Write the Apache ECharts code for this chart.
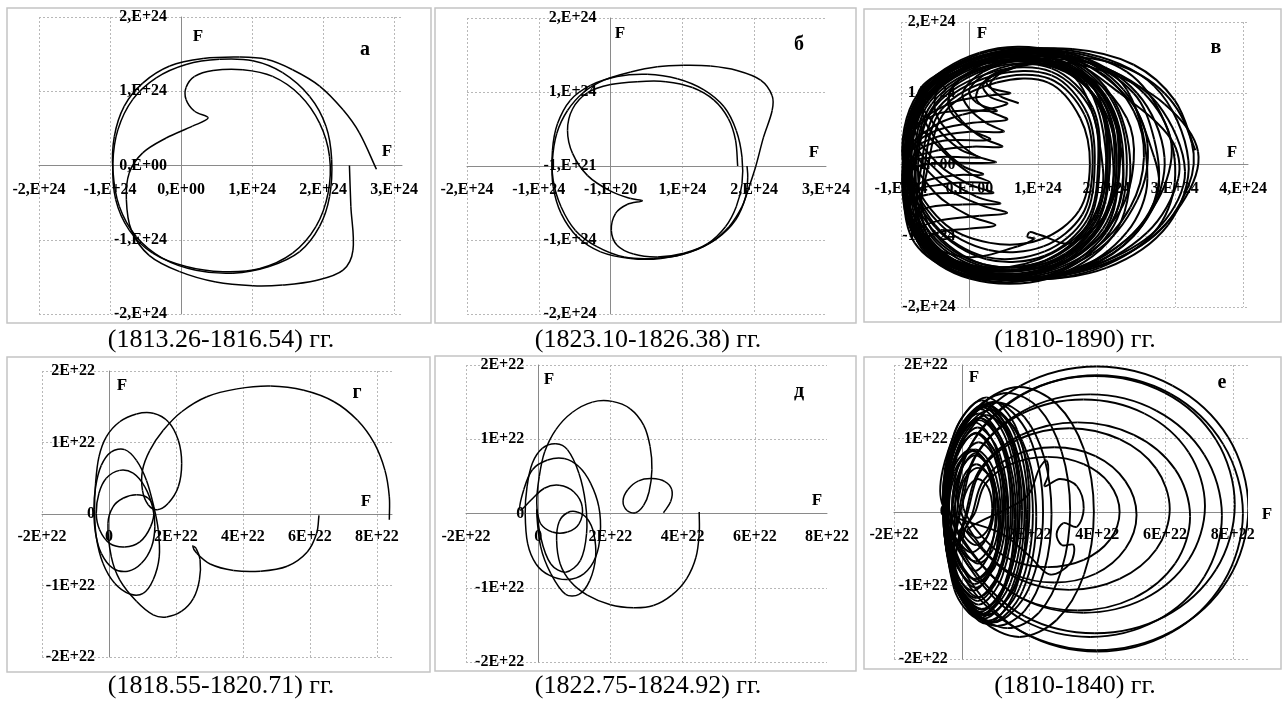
<!DOCTYPE html>
<html>
<head>
<meta charset="utf-8">
<script src="https://cdn.jsdelivr.net/npm/echarts@6/dist/echarts.min.js"></script>
<style>
  html, body { margin: 0; padding: 0; background: #fff; }
  #chart { width: 1283px; height: 704px; }
</style>
</head>
<body>
<div id="chart"></div>
<script>
// tick labels (as printed in the source figure)
const xLabelsA = ['-2,E+24', '-1,E+24', '0,E+00', '1,E+24', '2,E+24', '3,E+24'];
const yLabelsA = ['-2,E+24', '-1,E+24', '0,E+00', '1,E+24', '2,E+24'];
const xLabelsB = ['-2,E+24', '-1,E+24', '-1,E+20', '1,E+24', '2,E+24', '3,E+24'];
const yLabelsB = ['-2,E+24', '-1,E+24', '-1,E+21', '1,E+24', '2,E+24'];
const xLabelsV = ['-1,E+24', '0,E+00', '1,E+24', '2,E+24', '3,E+24', '4,E+24'];
const yLabelsV = ['-2,E+24', '-1,E+24', '0,E+00', '1,E+24', '2,E+24'];
const xLabels22 = ['-2E+22', '0', '2E+22', '4E+22', '6E+22', '8E+22'];
const yLabels22 = ['-2E+22', '-1E+22', '0', '1E+22', '2E+22'];

// а: units of 1E+24
const curveA = [
  [2.37, 0], [2.39, -0.55], [2.42, -1.14], [2.28, -1.41], [1.90, -1.55], [1.43, -1.61], [1.01, -1.62],
  [0.49, -1.57], [-0.02, -1.43], [-0.45, -1.21], [-0.70, -0.87], [-0.77, -0.46], [-0.73, -0.10],
  [-0.54, 0.17], [-0.21, 0.37], [0.16, 0.53], [0.38, 0.64], [0.19, 0.73], [0.07, 0.89], [0.07, 1.05],
  [0.19, 1.20], [0.45, 1.28], [0.87, 1.29], [1.29, 1.20], [1.67, 0.95], [1.95, 0.57], [2.09, 0.12],
  [2.07, -0.37], [1.90, -0.82], [1.57, -1.18], [1.10, -1.39], [0.59, -1.43], [0.07, -1.36],
  [-0.40, -1.18], [-0.73, -0.87], [-0.92, -0.46], [-0.96, 0.03], [-0.89, 0.48], [-0.68, 0.89],
  [-0.35, 1.18], [0.07, 1.36], [0.54, 1.43], [1.01, 1.41], [1.43, 1.25], [1.81, 0.93], [2.04, 0.53],
  [2.12, 0.08], [2.09, -0.42], [1.95, -0.82], [1.67, -1.16], [1.24, -1.36], [0.73, -1.45], [0.21, -1.41],
  [-0.26, -1.25], [-0.63, -0.96], [-0.87, -0.55], [-0.96, -0.06], [-0.94, 0.39], [-0.80, 0.80],
  [-0.54, 1.11], [-0.16, 1.34], [0.31, 1.44], [0.82, 1.46], [1.20, 1.43], [1.57, 1.29], [1.95, 1.07],
  [2.28, 0.75], [2.51, 0.44], [2.75, -0.05]
];

// б: units of 1E+24
const curveB = [
  [1.77, 0], [1.74, 0.35], [1.64, 0.64], [1.44, 0.89], [1.14, 1.06], [0.77, 1.14], [0.37, 1.14], [0, 1.10],
  [-0.32, 0.99], [-0.53, 0.77], [-0.60, 0.48], [-0.53, 0.17], [-0.32, -0.13], [0, -0.34], [0.28, -0.44],
  [0.44, -0.47], [0.23, -0.52], [0.07, -0.64], [0.01, -0.87], [0.09, -1.07], [0.32, -1.19], [0.65, -1.23],
  [1.02, -1.18], [1.35, -1.05], [1.60, -0.82], [1.75, -0.55], [1.83, -0.24], [1.83, 0.12], [1.75, 0.48],
  [1.58, 0.80], [1.30, 1.03], [0.93, 1.18], [0.51, 1.24], [0.09, 1.21], [-0.28, 1.09], [-0.56, 0.89],
  [-0.74, 0.57], [-0.81, 0.21], [-0.80, -0.19], [-0.69, -0.55], [-0.49, -0.87], [-0.19, -1.09],
  [0.19, -1.23], [0.60, -1.25], [1.02, -1.19], [1.37, -1.05], [1.65, -0.82], [1.83, -0.55], [1.93, -0.28],
  [2.02, -0.01], [2.13, 0.39], [2.25, 0.75], [2.25, 0.95], [2.09, 1.16], [1.76, 1.29], [1.39, 1.35],
  [1.02, 1.36], [0.65, 1.34], [0.28, 1.27], [-0.09, 1.16], [-0.37, 1.00], [-0.60, 0.75], [-0.75, 0.44],
  [-0.81, 0.08], [-0.80, -0.28], [-0.69, -0.64], [-0.46, -0.96], [-0.14, -1.16], [0.28, -1.25],
  [0.70, -1.25], [1.11, -1.16], [1.48, -0.98], [1.74, -0.73], [1.88, -0.42], [1.91, -0.15], [1.90, 0]
];

// в: units of 1E+24, one cycle per row (cusp first)
const loopsV = [
  [[0.72, 0.86], [0.45, 0.96], [0.3, 1.12], [0.5, 1.3], [1.1, 1.45], [2.0, 1.3], [2.85, 0.85], [3.34, 0.18], [3.1, -0.55], [2.4, -1.2], [1.4, -1.55], [0.3, -1.52], [-0.5, -1.15], [-0.9, -0.5], [-0.9, 0.15], [-0.55, 0.45], [0.0, 0.58]],
  [[0.55, 0.63], [0.3, 0.75], [0.1, 0.92], [0.2, 1.15], [0.6, 1.35], [1.2, 1.48], [2.0, 1.35], [2.75, 0.85], [3.15, -0.1], [2.8, -0.85], [2.0, -1.35], [1.0, -1.58], [0.0, -1.45], [-0.65, -1.05], [-0.95, -0.4], [-0.88, 0.15], [-0.5, 0.38], [0.0, 0.46]],
  [[0.5, 0.46], [0.25, 0.58], [0.0, 0.78], [-0.1, 1.0], [0.2, 1.3], [0.9, 1.52], [1.8, 1.42], [2.55, 1.0], [2.95, 0.3], [2.75, -0.5], [2.1, -1.2], [1.1, -1.6], [0.0, -1.5], [-0.7, -1.05], [-0.95, -0.35], [-0.85, 0.05], [-0.45, 0.2], [0.05, 0.25]],
  [[0.48, 0.25], [0.2, 0.37], [-0.1, 0.6], [-0.3, 0.95], [0.0, 1.3], [0.7, 1.55], [1.6, 1.48], [2.4, 1.0], [2.7, 0.35], [2.75, -0.35], [2.4, -1.0], [1.7, -1.45], [0.8, -1.6], [-0.1, -1.45], [-0.75, -1.0], [-0.96, -0.3], [-0.8, -0.05], [-0.4, 0.02]],
  [[0.38, 0.03], [0.1, 0.12], [-0.2, 0.35], [-0.5, 0.75], [-0.4, 1.15], [0.2, 1.45], [1.1, 1.55], [1.9, 1.3], [2.4, 0.75], [2.55, 0.1], [2.35, -0.6], [1.8, -1.2], [0.9, -1.55], [-0.1, -1.45], [-0.7, -1.05], [-0.93, -0.5], [-0.7, -0.25], [-0.2, -0.15]],
  [[0.2, -0.14], [-0.1, -0.02], [-0.45, 0.3], [-0.7, 0.8], [-0.45, 1.2], [0.2, 1.47], [1.0, 1.5], [1.8, 1.2], [2.3, 0.65], [2.4, 0.05], [2.2, -0.65], [1.6, -1.25], [0.7, -1.55], [-0.1, -1.42], [-0.62, -1.12], [-0.72, -0.9], [-0.4, -0.78], [0.15, -0.72]],
  [[0.55, -0.68], [0.2, -0.58], [-0.3, -0.35], [-0.75, 0.1], [-0.85, 0.7], [-0.4, 1.2], [0.4, 1.45], [1.3, 1.4], [1.95, 0.95], [2.25, -0.1], [2.05, -0.85], [1.4, -1.35], [0.5, -1.5], [-0.3, -1.35], [-0.7, -1.1], [-0.45, -0.95], [0.0, -0.9]],
  [[0.38, -0.85], [0.0, -0.72], [-0.5, -0.4], [-0.88, 0.2], [-0.75, 0.9], [-0.2, 1.3], [0.6, 1.45], [1.4, 1.3], [1.95, 0.8], [2.15, 0.0], [1.95, -0.8], [1.35, -1.3], [0.6, -1.45], [-0.2, -1.35], [-0.75, -0.95], [-0.95, -0.3], [-0.8, 0.5], [-0.3, 0.85], [0.3, 0.97]],
  [[0.6, 1.0], [0.3, 1.08], [0.25, 1.2], [0.6, 1.35], [1.2, 1.4], [1.8, 1.1], [2.1, 0.05], [1.95, -0.75], [1.4, -1.3], [0.6, -1.5], [-0.2, -1.4], [-0.8, -0.95], [-0.95, -0.25], [-0.85, 0.4], [-0.5, 0.7], [0.0, 0.76]],
  [[0.4, 0.75], [0.1, 0.87], [0.0, 1.05], [0.3, 1.3], [0.9, 1.42], [1.5, 1.3], [1.95, 0.7], [2.05, 0.0], [1.9, -0.7], [1.4, -1.25], [0.6, -1.48], [-0.2, -1.35], [-0.75, -0.95], [-0.95, -0.35], [-0.8, 0.15], [-0.4, 0.33]],
  [[0.3, 0.35], [0.0, 0.5], [-0.3, 0.8], [-0.2, 1.15], [0.4, 1.4], [1.1, 1.45], [1.7, 1.15], [2.0, 0.1], [1.85, -0.7], [1.3, -1.25], [0.5, -1.5], [-0.3, -1.35], [-0.8, -0.9], [-0.92, -0.55], [-0.6, -0.42], [-0.1, -0.4]],
  [[0.35, -0.4], [0.0, -0.28], [-0.45, 0.0], [-0.8, 0.5], [-0.6, 1.05], [0.1, 1.4], [0.9, 1.45], [1.6, 1.15], [1.95, -0.05], [1.8, -0.75], [1.2, -1.25], [0.4, -1.45], [-0.35, -1.3], [-0.8, -0.85], [-0.65, -0.62], [-0.1, -0.56]],
  [[0.45, -0.55], [0.1, -0.45], [-0.4, -0.15], [-0.85, 0.4], [-0.7, 1.0], [-0.1, 1.38], [0.8, 1.5], [1.6, 1.3], [2.1, 0.75], [2.2, 0.2], [2.05, -0.6], [1.5, -1.1], [1.0, -0.98], [0.88, -0.95], [0.85, -1.02], [0.95, -1.04], [0.7, -1.15], [0.0, -1.3], [-0.6, -1.1], [-0.93, -0.5], [-0.92, 0.0], [-0.5, 0.1], [0.0, 0.1]],
  [[0.15, 0.1], [-0.15, 0.22], [-0.5, 0.55], [-0.75, 1.0], [-0.3, 1.35], [0.5, 1.58], [1.5, 1.55], [2.3, 1.05], [2.6, -0.2], [2.3, -0.95], [1.5, -1.5], [0.5, -1.62], [-0.4, -1.35], [-0.9, -0.8], [-0.85, -0.4], [-0.4, -0.28], [0.0, -0.25]],
  [[0.3, -0.25], [0.0, -0.12], [-0.4, 0.2], [-0.8, 0.7], [-0.55, 1.2], [0.3, 1.55], [1.3, 1.6], [2.3, 1.3], [2.85, 0.6], [3.0, -0.25], [2.7, -0.95], [1.9, -1.45], [0.9, -1.62], [-0.1, -1.5], [-0.7, -1.15], [-0.96, -0.55], [-0.9, 0.2], [-0.5, 0.55], [-0.1, 0.7]],
  [[0.55, 0.85], [0.3, 0.95], [0.2, 1.12], [0.5, 1.32], [1.2, 1.5], [2.1, 1.42], [2.85, 1.0], [3.25, 0.3], [3.2, -0.3], [2.7, -1.0], [1.8, -1.45], [0.8, -1.6], [-0.2, -1.5], [-0.8, -1.1], [-0.97, -0.4], [-0.93, 0.3], [-0.65, 0.85], [-0.2, 1.25], [0.5, 1.55], [1.5, 1.62], [2.4, 1.4], [3.0, 0.9], [3.3, 0.2]]
];

// в: plain ring loops (leftmost point first)
const ringV = [
  [[-0.92, 0.0], [-0.7, 0.95], [0.2, 1.5], [1.2, 1.5], [1.95, 0.9], [2.15, 0.0], [1.9, -0.9], [1.1, -1.5], [0.1, -1.52], [-0.65, -1.0]],
  [[-0.85, 0.05], [-0.6, 0.9], [0.25, 1.42], [1.2, 1.42], [1.9, 0.85], [2.05, 0.0], [1.85, -0.85], [1.1, -1.42], [0.15, -1.45], [-0.6, -0.95]],
  [[-0.78, 0.0], [-0.5, 0.85], [0.3, 1.35], [1.2, 1.35], [1.8, 0.8], [1.9, -0.05], [1.72, -0.85], [1.1, -1.35], [0.2, -1.4], [-0.55, -0.9]],
  [[-0.96, -0.05], [-0.75, 0.95], [0.15, 1.55], [1.2, 1.56], [2.0, 0.95], [2.25, 0.0], [2.0, -0.95], [1.1, -1.57], [0.0, -1.58], [-0.72, -1.05]],
  [[-0.7, 0.0], [-0.45, 0.8], [0.35, 1.25], [1.2, 1.25], [1.72, 0.72], [1.83, 0.0], [1.68, -0.75], [1.1, -1.22], [0.25, -1.3], [-0.5, -0.85]],
  [[-0.9, 0.05], [-0.68, 0.92], [0.2, 1.47], [1.25, 1.47], [2.0, 0.9], [2.2, 0.05], [1.95, -0.9], [1.15, -1.48], [0.1, -1.5], [-0.65, -1.0]],
  [[-0.8, -0.05], [-0.55, 0.85], [0.3, 1.38], [1.25, 1.4], [1.9, 0.85], [2.02, -0.05], [1.85, -0.85], [1.15, -1.4], [0.2, -1.43], [-0.58, -0.95]],
  [[-0.94, 0.0], [-0.72, 0.98], [0.2, 1.52], [1.3, 1.52], [2.05, 0.95], [2.3, 0.0], [2.05, -0.95], [1.2, -1.55], [0.05, -1.55], [-0.7, -1.05]],
  [[-0.6, 0.0], [-0.35, 0.75], [0.4, 1.15], [1.15, 1.15], [1.62, 0.65], [1.76, 0.0], [1.6, -0.65], [1.05, -1.05], [0.3, -1.1], [-0.4, -0.8]],
  [[-0.88, 0.0], [-0.65, 0.9], [0.25, 1.45], [1.25, 1.44], [1.95, 0.88], [2.12, 0.0], [1.9, -0.88], [1.12, -1.45], [0.1, -1.48], [-0.62, -0.98]],
  [[-0.93, 0.05], [-0.7, 0.98], [0.25, 1.55], [1.4, 1.52], [2.3, 0.95], [2.6, 0.3], [2.45, -0.5], [1.8, -1.25], [0.7, -1.6], [-0.3, -1.45], [-0.8, -0.85]],
  [[-0.9, -0.05], [-0.62, 0.95], [0.3, 1.5], [1.5, 1.55], [2.45, 1.0], [2.85, 0.1], [2.6, -0.75], [1.9, -1.35], [0.8, -1.6], [-0.2, -1.5], [-0.75, -0.95]],
  [[-0.95, 0.0], [-0.72, 0.95], [0.2, 1.53], [1.6, 1.58], [2.7, 1.1], [3.2, 0.05], [2.9, -0.85], [2.0, -1.45], [0.8, -1.62], [-0.25, -1.5], [-0.8, -0.95]],
  [[-0.82, 0.05], [-0.58, 0.88], [0.3, 1.4], [1.25, 1.4], [1.88, 0.85], [2.0, 0.05], [1.82, -0.8], [1.12, -1.35], [0.2, -1.4], [-0.55, -0.92]],
  [[-0.75, 0.0], [-0.5, 0.82], [0.35, 1.3], [1.2, 1.3], [1.78, 0.76], [1.88, 0.0], [1.72, -0.78], [1.1, -1.28], [0.25, -1.33], [-0.5, -0.88]],
  [[-0.97, 0.0], [-0.76, 0.98], [0.15, 1.57], [1.25, 1.58], [2.05, 1.0], [2.35, 0.0], [2.1, -1.0], [1.15, -1.6], [0.0, -1.6], [-0.75, -1.1]],
  [[-0.86, 0.0], [-0.63, 0.9], [0.25, 1.45], [1.3, 1.47], [2.02, 0.9], [2.18, -0.05], [1.98, -0.92], [1.18, -1.47], [0.1, -1.5], [-0.62, -1.0]],
  [[-0.65, 0.0], [-0.4, 0.78], [0.38, 1.2], [1.18, 1.2], [1.68, 0.7], [1.8, 0.0], [1.65, -0.7], [1.08, -1.15], [0.28, -1.2], [-0.45, -0.82]],
  [[-0.92, 0.0], [-0.7, 0.95], [0.2, 1.5], [1.4, 1.55], [2.25, 1.05], [2.7, 0.1], [2.75, -0.4], [2.3, -1.05], [1.4, -1.5], [0.3, -1.58], [-0.6, -1.15]],
  [[-0.9, 0.0], [-0.66, 0.92], [0.25, 1.48], [1.35, 1.5], [2.2, 1.0], [2.95, 0.35], [3.05, -0.2], [2.6, -0.95], [1.6, -1.5], [0.4, -1.6], [-0.55, -1.2], [-0.9, 0.0]]
];

// г: units of 1E+22
const curveG = [
  [8.37, -0.08], [8.37, 0.24], [8.24, 0.61], [7.92, 0.99], [7.42, 1.31], [6.72, 1.57], [5.82, 1.73],
  [4.82, 1.79], [3.82, 1.75], [2.92, 1.64], [2.17, 1.43], [1.62, 1.17], [1.22, 0.89], [1.00, 0.61],
  [1.00, 0.33], [1.17, 0.13], [1.44, 0.06], [1.77, 0.15], [2.07, 0.38], [2.17, 0.71], [2.07, 1.03],
  [1.77, 1.29], [1.32, 1.41], [0.82, 1.40], [0.32, 1.29], [-0.08, 1.08], [-0.30, 0.80], [-0.40, 0.43],
  [-0.43, 0.06], [-0.38, -0.32], [-0.18, -0.69], [0.17, -0.97], [0.62, -1.12], [1.02, -1.11],
  [1.32, -0.92], [1.50, -0.60], [1.47, -0.22], [1.34, 0.10], [1.12, 0.47], [0.82, 0.75], [0.47, 0.90],
  [0.07, 0.87], [-0.23, 0.68], [-0.40, 0.38], [-0.45, 0.06], [-0.40, -0.27], [-0.23, -0.55],
  [0.12, -0.76], [0.57, -0.80], [0.97, -0.69], [1.27, -0.46], [1.37, -0.18], [1.30, 0.10], [1.07, 0.38],
  [0.72, 0.57], [0.32, 0.61], [-0.08, 0.50], [-0.30, 0.29], [-0.38, 0.01], [-0.28, -0.22], [0.02, -0.41],
  [0.47, -0.46], [0.92, -0.39], [1.24, -0.18], [1.34, 0.06], [1.17, 0.22], [0.82, 0.27], [0.42, 0.22],
  [0.12, 0.10], [-0.03, -0.13], [0.07, -0.60], [0.32, -0.92], [0.82, -1.22], [1.32, -1.41], [1.72, -1.44],
  [2.17, -1.36], [2.52, -1.18], [2.70, -0.92], [2.72, -0.64], [2.60, -0.48], [2.50, -0.45], [2.62, -0.55],
  [3.02, -0.70], [3.72, -0.79], [4.52, -0.80], [5.32, -0.73], [5.92, -0.53], [6.20, -0.27], [6.27, -0.02]
];

// д: units of 1E+22
const curveD = [
  [3.47, 0.01], [3.67, 0.16], [3.70, 0.32], [3.51, 0.43], [3.15, 0.47], [2.78, 0.44], [2.48, 0.32],
  [2.35, 0.17], [2.46, 0.04], [2.69, 0.01], [2.92, 0.11], [3.07, 0.29], [3.15, 0.59], [3.10, 0.90],
  [2.92, 1.19], [2.55, 1.41], [2.05, 1.51], [1.50, 1.50], [0.94, 1.36], [0.49, 1.13], [0.18, 0.83],
  [0.03, 0.50], [-0.04, 0.14], [0.07, -0.32], [0.35, -0.68], [0.76, -0.79], [1.17, -0.63], [1.34, -0.27],
  [1.31, 0.14], [1.13, 0.54], [0.81, 0.86], [0.49, 0.94], [0.12, 0.88], [-0.16, 0.68], [-0.31, 0.36],
  [-0.36, 0], [-0.29, -0.41], [-0.06, -0.68], [0.30, -0.83], [0.81, -0.89], [1.27, -0.81], [1.59, -0.59],
  [1.72, -0.27], [1.68, 0.09], [1.45, 0.41], [1.13, 0.63], [0.72, 0.74], [0.26, 0.72], [-0.16, 0.59],
  [-0.40, 0.32], [-0.50, 0.05], [-0.20, 0.18], [0.17, 0.34], [0.58, 0.38], [0.99, 0.29], [1.22, 0.09],
  [1.13, -0.14], [0.81, -0.25], [0.39, -0.25], [0.07, -0.14], [-0.04, 0.05], [0.07, -0.45], [0.35, -0.81],
  [0.76, -1.09], [1.13, -1.09], [1.43, -0.90], [1.59, -0.59], [1.54, -0.27], [1.36, -0.07], [1.08, 0.02],
  [0.81, 0.01], [0.58, -0.11], [0.51, -0.36], [0.61, -0.68], [0.90, -0.92], [1.36, -1.10], [2.00, -1.23],
  [2.64, -1.27], [3.19, -1.24], [3.70, -1.10], [4.11, -0.88], [4.37, -0.59], [4.46, -0.27], [4.46, 0.02]
];

// е: units of 1E+22, one loop per row (leftmost point first)
const loopsE = [
  [[-0.55, 0], [-0.19, 1.02], [0.65, 1.45], [1.49, 1.02], [1.85, 0], [1.49, -1.02], [0.65, -1.45], [-0.19, -1.02]],
  [[-0.5, 0.05], [0.10, 1.02], [1.74, 1.72], [3.98, 1.98], [6.22, 1.72], [7.86, 1.02], [8.46, 0.05], [7.86, -0.92], [6.22, -1.62], [3.98, -1.88], [1.74, -1.62], [0.10, -0.92]],
  [[-0.5, 0.05], [-0.17, 1.02], [0.6, 1.43], [1.37, 1.02], [1.7, 0.05], [1.37, -0.92], [0.6, -1.33], [-0.17, -0.92]],
  [[-0.3, -0.02], [0.28, 0.92], [1.85, 1.61], [4.0, 1.86], [6.15, 1.61], [7.72, 0.92], [8.3, -0.02], [7.72, -0.96], [6.15, -1.65], [4.0, -1.9], [1.85, -1.65], [0.28, -0.96]],
  [[-0.52, -0.04], [-0.2, 0.88], [0.54, 1.28], [1.28, 0.88], [1.6, -0.04], [1.28, -0.96], [0.54, -1.36], [-0.2, -0.96]],
  [[-0.55, -0.03], [-0.34, 0.73], [0.25, 1.29], [1.05, 1.49], [1.85, 1.29], [2.44, 0.73], [2.65, -0.03], [2.44, -0.79], [1.85, -1.35], [1.05, -1.55], [0.25, -1.35], [-0.34, -0.79]],
  [[-0.2, 0.1], [0.35, 0.98], [1.86, 1.62], [3.93, 1.85], [6.0, 1.62], [7.51, 0.98], [8.06, 0.1], [7.51, -0.78], [6.0, -1.42], [3.93, -1.65], [1.86, -1.42], [0.35, -0.78]],
  [[-0.45, 0.06], [-0.17, 0.91], [0.5, 1.28], [1.17, 0.91], [1.45, 0.06], [1.17, -0.79], [0.5, -1.16], [-0.17, -0.79]],
  [[-0.1, -0.05], [0.42, 0.78], [1.84, 1.38], [3.79, 1.6], [5.74, 1.38], [7.16, 0.78], [7.68, -0.05], [7.16, -0.88], [5.74, -1.48], [3.79, -1.7], [1.84, -1.48], [0.42, -0.88]],
  [[-0.5, -0.05], [-0.22, 0.73], [0.43, 1.07], [1.08, 0.73], [1.35, -0.05], [1.08, -0.83], [0.43, -1.17], [-0.22, -0.83]],
  [[-0.5, 0.02], [-0.25, 0.82], [0.43, 1.41], [1.35, 1.62], [2.28, 1.41], [2.95, 0.82], [3.2, 0.02], [2.95, -0.78], [2.28, -1.37], [1.35, -1.58], [0.43, -1.37], [-0.25, -0.78]],
  [[0.0, 0.08], [0.48, 0.81], [1.79, 1.34], [3.59, 1.53], [5.39, 1.34], [6.7, 0.81], [7.18, 0.08], [6.7, -0.65], [5.39, -1.18], [3.59, -1.37], [1.79, -1.18], [0.48, -0.65]],
  [[-0.4, 0.08], [-0.15, 0.78], [0.43, 1.08], [1.01, 0.78], [1.25, 0.08], [1.01, -0.62], [0.43, -0.92], [-0.15, -0.62]],
  [[0.1, -0.06], [0.54, 0.58], [1.76, 1.05], [3.42, 1.22], [5.08, 1.05], [6.3, 0.58], [6.74, -0.06], [6.3, -0.7], [5.08, -1.17], [3.42, -1.34], [1.76, -1.17], [0.54, -0.7]],
  [[-0.35, -0.03], [-0.13, 0.59], [0.4, 0.85], [0.93, 0.59], [1.15, -0.03], [0.93, -0.65], [0.4, -0.91], [-0.13, -0.65]],
  [[-0.5, 0], [-0.21, 0.85], [0.6, 1.47], [1.7, 1.7], [2.8, 1.47], [3.61, 0.85], [3.9, 0], [3.61, -0.85], [2.8, -1.47], [1.7, -1.7], [0.6, -1.47], [-0.21, -0.85]],
  [[0.2, 0.04], [0.6, 0.59], [1.68, 0.99], [3.17, 1.14], [4.66, 0.99], [5.74, 0.59], [6.14, 0.04], [5.74, -0.51], [4.66, -0.91], [3.17, -1.06], [1.68, -0.91], [0.6, -0.51]],
  [[-0.25, 0.05], [-0.06, 0.55], [0.4, 0.77], [0.86, 0.55], [1.05, 0.05], [0.86, -0.45], [0.4, -0.67], [-0.06, -0.45]],
  [[0.3, -0.04], [0.63, 0.42], [1.51, 0.76], [2.73, 0.88], [3.95, 0.76], [4.83, 0.42], [5.16, -0.04], [4.83, -0.5], [3.95, -0.84], [2.73, -0.96], [1.51, -0.84], [0.63, -0.5]],
  [[-0.1, 0.1], [0.06, 0.49], [0.43, 0.65], [0.8, 0.49], [0.95, 0.1], [0.8, -0.29], [0.43, -0.45], [0.06, -0.29]],
  [[0.4, 0], [0.69, 0.38], [1.46, 0.65], [2.53, 0.75], [3.6, 0.65], [4.37, 0.38], [4.66, 0], [4.37, -0.38], [3.6, -0.65], [2.53, -0.75], [1.46, -0.65], [0.69, -0.38]],
  [[0.05, 0.05], [0.18, 0.33], [0.48, 0.45], [0.78, 0.33], [0.9, 0.05], [0.78, -0.23], [0.48, -0.35], [0.18, -0.23]],
  [[1.9, 0.2], [2.3, 0.6], [2.5, 0.7], [2.55, 0.5], [2.45, 0.35], [2.9, 0.45], [3.4, 0.35], [3.6, 0.05], [3.4, -0.2], [3.0, -0.15], [2.8, -0.3], [2.95, -0.45], [3.3, -0.45], [3.2, -0.7], [2.6, -0.85], [2.0, -0.6], [1.2, -0.3]],
  [[-0.55, 0.08], [-0.17, 1.12], [0.73, 1.56], [1.63, 1.12], [2.0, 0.08], [1.63, -0.96], [0.73, -1.4], [-0.17, -0.96]],
  [[-0.52, -0.06], [-0.11, 0.96], [0.84, 1.39], [1.79, 0.96], [2.2, -0.06], [1.79, -1.08], [0.84, -1.51], [-0.11, -1.08]],
  [[-0.55, 0], [-0.22, 0.98], [0.55, 1.4], [1.32, 0.98], [1.65, 0], [1.32, -0.98], [0.55, -1.4], [-0.22, -0.98]],
  [[-0.48, 0.02], [-0.14, 1.0], [0.65, 1.42], [1.44, 1.0], [1.78, 0.02], [1.44, -0.96], [0.65, -1.38], [-0.14, -0.96]],
  [[-0.5, 0.04], [-0.2, 0.95], [0.5, 1.34], [1.2, 0.95], [1.5, 0.04], [1.2, -0.87], [0.5, -1.26], [-0.2, -0.87]],
  [[-0.3, 0], [-0.06, 0.67], [0.5, 0.95], [1.06, 0.67], [1.3, 0], [1.06, -0.67], [0.5, -0.95], [-0.06, -0.67]],
  [[-0.45, -0.03], [-0.17, 0.8], [0.47, 1.15], [1.11, 0.8], [1.38, -0.03], [1.11, -0.86], [0.47, -1.21], [-0.17, -0.86]],
  [[-0.15, -0.05], [0.04, 0.41], [0.48, 0.6], [0.92, 0.41], [1.1, -0.05], [0.92, -0.51], [0.48, -0.7], [0.04, -0.51]],
  [[-0.55, 0.03], [-0.18, 1.04], [0.7, 1.47], [1.58, 1.04], [1.95, 0.03], [1.58, -0.98], [0.7, -1.41], [-0.18, -0.98]],
  [[-0.38, 0.02], [-0.14, 0.76], [0.41, 1.07], [0.96, 0.76], [1.2, 0.02], [0.96, -0.72], [0.41, -1.03], [-0.14, -0.72]],
  [[-0.5, 0], [-0.07, 1.05], [0.95, 1.5], [1.97, 1.05], [2.4, 0], [1.97, -1.05], [0.95, -1.5], [-0.07, -1.05]],
  [[-0.2, 0], [-0.02, 0.56], [0.4, 0.8], [0.82, 0.56], [1.0, 0], [0.82, -0.56], [0.4, -0.8], [-0.02, -0.56]],
  [[-0.55, 0.1], [-0.21, 1.09], [0.59, 1.52], [1.38, 1.09], [1.72, 0.1], [1.38, -0.89], [0.59, -1.32], [-0.21, -0.89]],
  [[-0.53, -0.1], [-0.22, 0.85], [0.51, 1.25], [1.24, 0.85], [1.55, -0.1], [1.24, -1.05], [0.51, -1.45], [-0.22, -1.05]],
  [[-0.5, 0.12], [-0.24, 0.89], [0.38, 1.22], [0.99, 0.89], [1.25, 0.12], [0.99, -0.65], [0.38, -0.98], [-0.24, -0.65]],
  [[-0.45, -0.12], [-0.22, 0.55], [0.33, 0.83], [0.87, 0.55], [1.1, -0.12], [0.87, -0.79], [0.33, -1.07], [-0.22, -0.79]],
  [[-0.55, -0.02], [-0.15, 1.0], [0.78, 1.44], [1.7, 1.0], [2.1, -0.02], [1.7, -1.04], [0.78, -1.48], [-0.15, -1.04]],
  [[-0.4, 0.15], [-0.2, 0.64], [0.28, 0.85], [0.75, 0.64], [0.95, 0.15], [0.75, -0.34], [0.28, -0.55], [-0.2, -0.34]],
  [[-0.45, -0.1], [-0.1, 0.89], [0.73, 1.32], [1.56, 0.89], [1.9, -0.1], [1.56, -1.09], [0.73, -1.52], [-0.1, -1.09], [-0.5, 0.0]]
];

const FONT = "'Liberation Serif', 'Times New Roman', serif";

const panels = [
  { strands: [curveA], x: [-2, 3.11, 1], xl: xLabelsA, yl: yLabelsA, grid: [39, 17, 363, 297], box: [7, 8, 424, 315], lw: 1.5,
    letter: 'а', letterAt: [365, 50], fTop: [198, 37], fRight: [387, 152], caption: '(1813.26-1816.54) гг.', capAt: [221, 340], margin: 16 },
  { strands: [curveB], x: [-2, 3, 1], xl: xLabelsB, yl: yLabelsB, grid: [467, 18, 359, 296], box: [435, 8, 421, 315], lw: 1.5,
    letter: 'б', letterAt: [799, 45], fTop: [620, 34], fRight: [814, 153], caption: '(1823.10-1826.38) гг.', capAt: [648, 340], margin: 16 },
  { strands: [[].concat(...loopsV), [].concat(...ringV)], x: [-1, 4.07, 1], xl: xLabelsV, yl: yLabelsV, grid: [901, 22, 347, 285], box: [864, 9, 417, 313], lw: 2.0,
    letter: 'в', letterAt: [1216, 48], fTop: [982, 34], fRight: [1232, 153], caption: '(1810-1890) гг.', capAt: [1075, 340], margin: 16 },
  { strands: [curveG], x: [-2, 8.45, 2], xl: xLabels22, yl: yLabels22, grid: [42, 371, 350, 286], box: [7, 357, 423, 315], lw: 1.5,
    letter: 'г', letterAt: [357, 393], fTop: [122, 386], fRight: [366, 502], caption: '(1818.55-1820.71) гг.', capAt: [221, 686], margin: 15 },
  { strands: [curveD], x: [-2, 8, 2], xl: xLabels22, yl: yLabels22, grid: [466, 365, 361, 297], box: [435, 356, 421, 315], lw: 1.5,
    letter: 'д', letterAt: [799, 392], fTop: [549, 380], fRight: [817, 501], caption: '(1822.75-1824.92) гг.', capAt: [648, 686], margin: 15 },
  { strands: [[].concat(...loopsE)], x: [-2, 8.45, 2], xl: xLabels22, yl: yLabels22, grid: [894, 365, 354, 294], box: [864, 357, 417, 312], lw: 1.9,
    letter: 'е', letterAt: [1222, 383], fTop: [974, 378], fRight: [1267, 515], caption: '(1810-1840) гг.', capAt: [1075, 686], margin: 15 }
];

function labelFn(labels, min, step) {
  return function (v) {
    const i = Math.round((v - min) / step);
    if (Math.abs(v - (min + i * step)) > 1e-6) return '';
    return labels[i] !== undefined ? labels[i] : '';
  };
}

// smooth curve through the points, one bezier segment per data item
function renderSegment(lw) {
  return function (params, api) {
    const i = params.dataIndexInside;
    const n = params.dataInsideLength;
    if (i >= n - 1) return null;
    const pt = function (k) {
      k = Math.max(0, Math.min(n - 1, k));
      return api.coord([api.value(0, k), api.value(1, k)]);
    };
    const p0 = pt(i - 1), p1 = pt(i), p2 = pt(i + 1), p3 = pt(i + 2);
    const d = function (a, b) { return Math.hypot(a[0] - b[0], a[1] - b[1]) || 1e-6; };
    const d01 = d(p0, p1), d12 = d(p1, p2), d23 = d(p2, p3);
    const s = 0.34;
    const k1 = s * d12 / (d01 + d12), k2 = s * d12 / (d12 + d23);
    return {
      type: 'bezierCurve',
      shape: {
        x1: p1[0], y1: p1[1], x2: p2[0], y2: p2[1],
        cpx1: p1[0] + (p2[0] - p0[0]) * k1, cpy1: p1[1] + (p2[1] - p0[1]) * k1,
        cpx2: p2[0] - (p3[0] - p1[0]) * k2, cpy2: p2[1] - (p3[1] - p1[1]) * k2
      },
      style: { stroke: '#000', lineWidth: lw, fill: null }
    };
  };
}

const axisLineStyle = { show: true, onZero: false, lineStyle: { color: '#8a8a8a', width: 1 } };
const splitStyle = { show: true, showMinLine: true, showMaxLine: false, lineStyle: { color: '#b8b8b8', width: 1, type: [2, 2] } };
const labelStyle = { fontFamily: FONT, fontWeight: 'bold', fontSize: 16, color: '#000', showMinLabel: true, showMaxLabel: true };

const grids = [], xAxes = [], yAxes = [], series = [], graphics = [];

panels.forEach(function (p, i) {
  const [gl, gt, gw, gh] = p.grid;
  grids.push({ left: gl, top: gt, width: gw, height: gh, containLabel: false, outerBoundsMode: 'none' });
  // axes cross at zero: shift them from the grid edges
  const yOff = -((0 - p.x[0]) / (p.x[1] - p.x[0])) * gw;
  const xOff = -gh / 2;
  xAxes.push({
    type: 'value', gridIndex: i, min: p.x[0], max: p.x[1], interval: p.x[2],
    position: 'bottom', offset: xOff,
    axisLine: axisLineStyle, axisTick: { show: false }, splitLine: splitStyle,
    axisLabel: Object.assign({}, labelStyle, { margin: p.margin, formatter: labelFn(p.xl, p.x[0], p.x[2]) })
  });
  yAxes.push({
    type: 'value', gridIndex: i, min: -2, max: 2, interval: 1,
    position: 'left', offset: yOff,
    axisLine: axisLineStyle, axisTick: { show: false },
    splitLine: Object.assign({}, splitStyle, { showMaxLine: true }),
    axisLabel: Object.assign({}, labelStyle, { margin: 14, formatter: labelFn(p.yl, -2, 1) })
  });
  p.strands.forEach(function (pts) {
    series.push({
      type: 'custom', xAxisIndex: i, yAxisIndex: i, data: pts,
      renderItem: renderSegment(p.lw), silent: true, animation: false, clip: true
    });
  });
  graphics.push({
    type: 'rect', silent: true, z: 0,
    shape: { x: p.box[0], y: p.box[1], width: p.box[2], height: p.box[3] },
    style: { fill: 'none', stroke: '#c4c4c4', lineWidth: 1.5 }
  });
  const txt = function (t, at, font) {
    graphics.push({
      type: 'text', x: at[0], y: at[1], silent: true, z: 10,
      style: { text: t, font: font, fill: '#000', align: 'center', verticalAlign: 'middle', textAlign: 'center', textVerticalAlign: 'middle' }
    });
  };
  txt('F', p.fTop, 'bold 17px ' + FONT);
  txt('F', p.fRight, 'bold 17px ' + FONT);
  txt(p.letter, p.letterAt, 'bold 20px ' + FONT);
  txt(p.caption, p.capAt, '26px ' + FONT);
});

const chart = echarts.init(document.getElementById('chart'), null, { renderer: 'canvas' });
chart.setOption({
  animation: false,
  backgroundColor: '#fff',
  grid: grids,
  xAxis: xAxes,
  yAxis: yAxes,
  series: series,
  graphic: graphics
});
</script>
</body>
</html>
